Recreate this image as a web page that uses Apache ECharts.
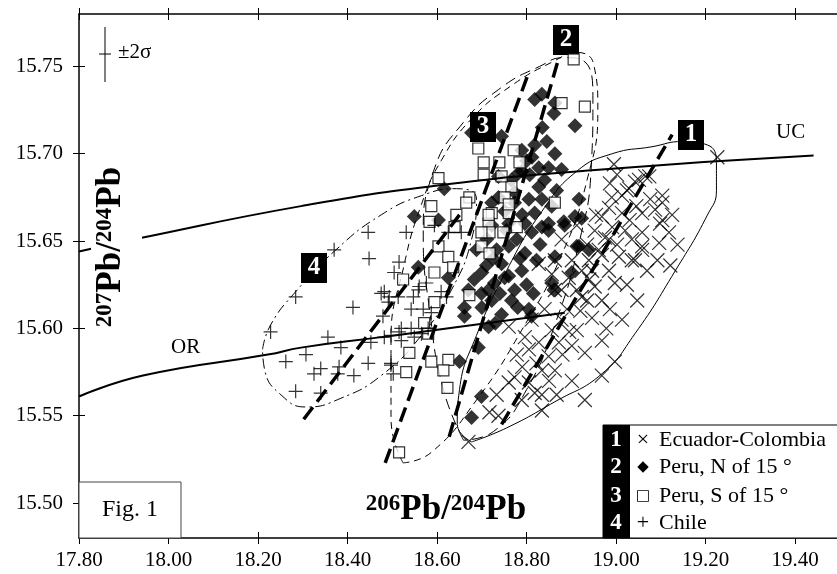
<!DOCTYPE html>
<html>
<head>
<meta charset="utf-8">
<script src="https://cdn.jsdelivr.net/npm/echarts@6.0.0/dist/echarts.min.js"></script>
<style>
  html, body { margin: 0; padding: 0; background: #fff; }
  #main { width: 837px; height: 574px; }
</style>
</head>
<body>
<div id="main"></div>
<script>
// tick labels
const xTicks = [17.8, 18.0, 18.2, 18.4, 18.6, 18.8, 19.0, 19.2, 19.4];
const yTicks = [15.50, 15.55, 15.60, 15.65, 15.70, 15.75];

// 1 Ecuador-Colombia (x)
const ecuadorPts = [
  [19.226,15.698],[18.995,15.694],[18.986,15.683],[19.042,15.684],[19.074,15.687],[19.024,15.679],
  [19.103,15.676],[19.121,15.636],[18.986,15.611],[18.997,15.581],[19.042,15.639],[19.096,15.649],
  [19.118,15.655],[19.058,15.645],[19.098,15.660],[19.103,15.672],[19.058,15.655],[19.013,15.666],
  [19.029,15.680],[19.051,15.685],[19.065,15.687],[19.087,15.668],[19.103,15.662],[19.058,15.666],
  [18.984,15.669],[18.968,15.664],[18.991,15.658],[19.020,15.656],[19.035,15.651],[19.058,15.647],
  [19.035,15.639],[19.006,15.641],[18.984,15.651],[18.952,15.656],[18.961,15.645],[18.939,15.639],
  [18.923,15.633],[18.894,15.629],[18.878,15.622],[18.984,15.633],[18.997,15.626],[18.952,15.624],
  [18.923,15.618],[18.968,15.616],[18.863,15.639],[18.760,15.601],[18.796,15.595],[18.827,15.592],
  [18.805,15.588],[18.849,15.584],[18.863,15.576],[18.834,15.576],[18.773,15.572],[18.760,15.569],
  [18.805,15.569],[18.818,15.563],[18.856,15.631],[18.840,15.611],[18.863,15.622],[18.827,15.637],
  [18.670,15.535],[18.717,15.552],[18.737,15.550],[18.901,15.570],[18.930,15.586],[18.968,15.573],
  [18.912,15.599],[18.946,15.606],[18.878,15.605],[18.901,15.590],[18.789,15.559],[19.013,15.676],
  [19.002,15.688],[19.076,15.674],[19.125,15.665],[19.137,15.648],[19.092,15.639],[19.069,15.633],
  [19.024,15.625],[19.047,15.616],[19.013,15.605],[18.968,15.593],[18.935,15.616],[18.912,15.622],
  [18.946,15.633],[18.968,15.642],[19.002,15.648],[18.935,15.648],[18.901,15.639],[18.878,15.651],
  [18.912,15.659],[18.890,15.611],[18.856,15.599],[18.811,15.605],[18.778,15.585],[18.733,15.562],
  [18.834,15.562],[18.867,15.562],[18.930,15.559],[18.834,15.553],[18.955,15.665],[18.975,15.652],
  [18.940,15.628],[18.920,15.610],[18.895,15.598],[18.880,15.585],[18.850,15.570],[18.822,15.580],
  [18.790,15.578],[18.872,15.592],[19.030,15.662],[19.045,15.670],[18.990,15.675],[18.978,15.600]
];

// 2 Peru, N of 15 (diamond)
const peruNPts = [
  [18.818,15.731],[18.834,15.734],[18.863,15.729],[18.861,15.723],[18.908,15.716],[18.845,15.707],
  [18.818,15.705],[18.789,15.702],[18.744,15.710],[18.677,15.712],[18.863,15.700],[18.878,15.691],
  [18.827,15.692],[18.840,15.685],[18.782,15.689],[18.616,15.680],[18.849,15.692],[18.807,15.688],
  [18.737,15.687],[18.827,15.681],[18.773,15.678],[18.805,15.674],[18.834,15.674],[18.856,15.670],
  [18.818,15.666],[18.549,15.664],[18.603,15.662],[18.796,15.660],[18.834,15.658],[18.849,15.656],
  [18.751,15.667],[18.737,15.675],[18.558,15.635],[18.625,15.629],[18.661,15.612],[18.661,15.607],
  [18.715,15.601],[18.650,15.581],[18.683,15.628],[18.699,15.620],[18.722,15.616],[18.728,15.626],
  [18.751,15.629],[18.773,15.622],[18.805,15.611],[18.811,15.607],[18.856,15.626],[18.849,15.660],
  [18.885,15.659],[18.908,15.664],[18.917,15.647],[18.863,15.641],[18.796,15.643],[18.760,15.647],
  [18.744,15.637],[18.722,15.672],[18.773,15.672],[18.811,15.655],[18.715,15.622],[18.692,15.589],
  [18.699,15.561],[18.677,15.549],[18.923,15.663],[18.883,15.661],[18.912,15.647],[18.939,15.645],
  [18.901,15.632],[18.861,15.622],[18.917,15.674],[18.755,15.656],[18.778,15.651],[18.733,15.645],
  [18.711,15.651],[18.789,15.633],[18.822,15.639],[18.800,15.625],[18.766,15.616],[18.744,15.608],
  [18.710,15.636],[18.688,15.645],[18.722,15.659],[18.766,15.685],[18.800,15.696],[18.867,15.679],
  [18.790,15.665],[18.785,15.640],[18.760,15.630],[18.740,15.620],[18.725,15.640],[18.700,15.632],
  [18.815,15.620],[18.830,15.648],[18.760,15.660],[18.790,15.690],[18.812,15.698],[18.835,15.715],
  [18.700,15.612],[18.730,15.603],[18.670,15.622],[18.780,15.612]
];

// 3 Peru, S of 15 (open square)
const peruSPts = [
  [18.905,15.754],[18.878,15.729],[18.930,15.727],[18.692,15.703],[18.704,15.695],[18.704,15.688],
  [18.739,15.695],[18.771,15.702],[18.784,15.695],[18.766,15.681],[18.744,15.687],[18.603,15.686],
  [18.587,15.670],[18.583,15.661],[18.672,15.675],[18.665,15.672],[18.643,15.665],[18.639,15.658],
  [18.722,15.666],[18.751,15.675],[18.760,15.666],[18.715,15.660],[18.717,15.655],[18.748,15.655],
  [18.778,15.658],[18.863,15.672],[18.603,15.647],[18.625,15.641],[18.636,15.635],[18.524,15.628],
  [18.594,15.632],[18.594,15.615],[18.672,15.619],[18.571,15.603],[18.580,15.597],[18.538,15.586],
  [18.587,15.581],[18.625,15.582],[18.614,15.576],[18.623,15.566],[18.531,15.575],[18.699,15.647],
  [18.717,15.643],[18.699,15.655],[18.715,15.665],[18.760,15.671],[18.515,15.529]
];

// 4 Chile (+)
const chilePts = [
  [18.228,15.598],[18.284,15.618],[18.284,15.564],[18.370,15.645],[18.446,15.655],[18.448,15.640],
  [18.531,15.655],[18.515,15.638],[18.504,15.632],[18.475,15.620],[18.493,15.618],[18.513,15.618],
  [18.558,15.622],[18.412,15.612],[18.479,15.607],[18.542,15.611],[18.520,15.600],[18.542,15.600],
  [18.356,15.595],[18.385,15.589],[18.452,15.592],[18.482,15.595],[18.520,15.593],[18.549,15.595],
  [18.565,15.597],[18.325,15.574],[18.340,15.577],[18.381,15.578],[18.378,15.574],[18.414,15.573],
  [18.446,15.580],[18.497,15.579],[18.502,15.574],[18.340,15.563],[18.482,15.621],[18.491,15.615],
  [18.547,15.618],[18.560,15.624],[18.576,15.626],[18.609,15.621],[18.621,15.618],[18.569,15.611],
  [18.587,15.609],[18.580,15.600],[18.515,15.598],[18.497,15.596],[18.497,15.580],[18.594,15.659],
  [18.625,15.655],[18.654,15.655],[18.262,15.581],[18.307,15.585]
];

// reference curves
const ucCurve = [[17.80,15.644],[17.943,15.652],[18.296,15.670],[18.605,15.682],[18.968,15.691],[19.441,15.699]];
const orCurve = [[17.80,15.561],[17.943,15.573],[18.222,15.585],[18.296,15.589],[18.475,15.595],[18.885,15.609]];

// trend lines (thick dashed)
const trend1 = [[18.744,15.545],[19.125,15.711]];
const trend2 = [[18.627,15.538],[18.872,15.755]];
const trend3 = [[18.484,15.523],[18.804,15.746]];
const trend4 = [[18.302,15.548],[18.650,15.665]];

// field outlines
const field1 = [[18.677,15.535],[18.645,15.545],[18.650,15.565],[18.688,15.596],[18.755,15.633],[18.834,15.667],
  [18.912,15.690],[18.991,15.700],[19.080,15.704],[19.148,15.707],[19.204,15.705],[19.224,15.695],[19.224,15.679],
  [19.204,15.665],[19.132,15.633],[19.042,15.597],[18.968,15.574],[18.863,15.558],[18.755,15.543],[18.677,15.535]];
const field2 = [[18.659,15.536],[18.614,15.565],[18.583,15.611],[18.569,15.653],[18.592,15.690],[18.659,15.718],
  [18.744,15.738],[18.829,15.750],[18.883,15.755],[18.928,15.753],[18.948,15.731],[18.944,15.691],[18.919,15.651],
  [18.867,15.605],[18.800,15.565],[18.726,15.541],[18.659,15.536]];
const field3 = [[18.524,15.523],[18.497,15.548],[18.497,15.593],[18.526,15.636],[18.565,15.671],[18.609,15.696],
  [18.677,15.720],[18.766,15.739],[18.861,15.753],[18.912,15.758],[18.950,15.751],[18.959,15.725],[18.935,15.685],
  [18.878,15.642],[18.789,15.599],[18.688,15.559],[18.587,15.529],[18.524,15.523]];
const field4 = [[18.210,15.588],[18.228,15.602],[18.284,15.621],[18.374,15.645],[18.475,15.665],[18.565,15.676],
  [18.643,15.680],[18.688,15.674],[18.677,15.651],[18.632,15.622],[18.565,15.596],[18.475,15.573],[18.385,15.560],
  [18.307,15.555],[18.251,15.562],[18.215,15.576],[18.210,15.588]];

const serif = '"Liberation Serif", "Times New Roman", serif';

function xAx(pos, inside, main) {
  return {
    type: 'value', position: pos, min: 17.8, max: 19.5,
    axisLine: { show: main, lineStyle: { color: '#000', width: 1.5 } },
    axisTick: { show: true, inside: inside, length: 6, customValues: xTicks, lineStyle: { color: '#000', width: 1 } },
    axisLabel: { show: main && pos === 'bottom', customValues: xTicks, margin: 12,
      formatter: v => v.toFixed(2), fontFamily: serif, fontSize: 21, color: '#000' },
    splitLine: { show: false }
  };
}
function yAx(inside, main) {
  return {
    type: 'value', position: 'left', min: 15.48, max: 15.78,
    axisLine: { show: main, lineStyle: { color: '#000', width: 1.5 } },
    axisTick: { show: true, inside: inside, length: 6, customValues: yTicks, lineStyle: { color: '#000', width: 1 } },
    axisLabel: { show: main, customValues: yTicks, margin: 16,
      formatter: v => v.toFixed(2), fontFamily: serif, fontSize: 21, color: '#000' },
    splitLine: { show: false }
  };
}

function field(data, type, width) {
  return { type: 'line', data: data, smooth: 0.5, symbol: 'none', silent: true, z: 1,
    lineStyle: { color: '#000', width: width, type: type } };
}
function trend(data) {
  return { type: 'line', data: data, symbol: 'none', silent: true, z: 4,
    lineStyle: { color: '#000', width: 3.5, type: [15, 7] } };
}
function tag(num, x, y) {
  return { type: 'group', left: x, top: y, z: 20, children: [
    { type: 'rect', shape: { x: 0, y: 0, width: 26, height: 30 }, style: { fill: '#000' } },
    { type: 'text', x: 13, y: 15, style: { text: num, fill: '#fff', font: 'bold 25px ' + serif, align: 'center', verticalAlign: 'middle' } }
  ] };
}
function legendRow(y, num, label) {
  return [
    { type: 'text', x: 616, y: y, z: 12, style: { text: num, font: 'bold 23px ' + serif, fill: '#fff', align: 'center', verticalAlign: 'middle' } },
    { type: 'text', x: 659, y: y, z: 12, style: { text: label, font: '22px ' + serif, fill: '#000', verticalAlign: 'middle' } }
  ];
}
// 206Pb/204Pb style title, superscripts raised
const titleRich = {
  s: { font: 'bold 23px ' + serif, verticalAlign: 'top', fill: '#000' },
  b: { font: 'bold 35px ' + serif, fill: '#000' }
};

const chart = echarts.init(document.getElementById('main'));
chart.setOption({
  animation: false,
  backgroundColor: '#fff',
  textStyle: { fontFamily: serif },
  grid: { left: 79, right: -3, top: 14, bottom: 36, containLabel: false, outerBoundsMode: 'none' },
  xAxis: [xAx('bottom', false, true), xAx('bottom', true, false), xAx('top', false, true), xAx('top', true, false)],
  yAxis: [yAx(false, true), yAx(true, false)],
  series: [
    field(field1, 'solid', 1),
    field(field2, [11, 6], 1),
    field(field3, [7, 5], 1),
    field(field4, [10, 4, 2, 4], 1),
    { type: 'line', data: ucCurve, smooth: true, symbol: 'none', silent: true, z: 3, lineStyle: { color: '#000', width: 2 } },
    { type: 'line', data: orCurve, smooth: true, symbol: 'none', silent: true, z: 3, lineStyle: { color: '#000', width: 2 } },
    { name: 'Ecuador-Colombia', type: 'scatter', data: ecuadorPts, z: 2,
      symbol: 'path://M0,0L10,10M10,0L0,10', symbolSize: 14,
      itemStyle: { color: 'transparent', borderColor: '#000', borderWidth: 1.2 } },
    { name: 'Peru, N of 15', type: 'scatter', data: peruNPts, z: 2,
      symbol: 'diamond', symbolSize: 15, itemStyle: { color: '#000' } },
    { name: 'Peru, S of 15', type: 'scatter', data: peruSPts, z: 2,
      symbol: 'rect', symbolSize: 11, itemStyle: { color: '#fff', borderColor: '#000', borderWidth: 1.2 } },
    { name: 'Chile', type: 'scatter', data: chilePts, z: 2,
      symbol: 'path://M5,0L5,10M0,5L10,5', symbolSize: 14,
      itemStyle: { color: 'transparent', borderColor: '#000', borderWidth: 1.2 } },
    trend(trend1), trend(trend2), trend(trend3), trend(trend4)
  ],
  graphic: [
    // 2 sigma bar
    { type: 'line', shape: { x1: 105, y1: 27, x2: 105, y2: 82 }, style: { stroke: '#000', lineWidth: 1 } },
    { type: 'line', shape: { x1: 99, y1: 54, x2: 111, y2: 54 }, style: { stroke: '#000', lineWidth: 1 } },
    { type: 'text', left: 118, top: 42, style: { text: '±2σ', font: '21px ' + serif, fill: '#000' } },
    // y title on white
    { type: 'rect', shape: { x: 91, y: 156, width: 51, height: 182 }, style: { fill: '#fff' }, z: 10 },
    { type: 'text', x: 111, y: 247, rotation: Math.PI / 2, z: 11,
      style: { text: '{s|207}{b|Pb/}{s|204}{b|Pb}', align: 'center', verticalAlign: 'middle', rich: titleRich } },
    // x title
    { type: 'text', x: 446, y: 510, z: 11,
      style: { text: '{s|206}{b|Pb/}{s|204}{b|Pb}', align: 'center', verticalAlign: 'middle', rich: titleRich } },
    { type: 'text', left: 776, top: 122, style: { text: 'UC', font: '21px ' + serif, fill: '#000' } },
    { type: 'text', left: 171, top: 337, style: { text: 'OR', font: '21px ' + serif, fill: '#000' } },
    tag('1', 678, 120), tag('2', 553, 25), tag('3', 470, 112), tag('4', 301, 253),
    // Fig. 1 box
    { type: 'rect', shape: { x: 79, y: 482, width: 102, height: 56 }, style: { fill: '#fff', stroke: '#444', lineWidth: 1 }, z: 10 },
    { type: 'text', x: 130, y: 510, z: 11, style: { text: 'Fig. 1', font: '24px ' + serif, fill: '#000', align: 'center', verticalAlign: 'middle' } },
    // legend
    { type: 'rect', shape: { x: 603, y: 425, width: 240, height: 113 }, style: { fill: '#fff', stroke: '#000', lineWidth: 1 }, z: 10 },
    { type: 'rect', shape: { x: 603, y: 425, width: 27, height: 113 }, style: { fill: '#000' }, z: 11 },
    ...legendRow(440, '1', 'Ecuador-Colombia'),
    ...legendRow(467, '2', 'Peru, N of 15 °'),
    ...legendRow(496, '3', 'Peru, S of 15 °'),
    ...legendRow(523, '4', 'Chile'),
    // legend markers
    { type: 'text', x: 643, y: 440, z: 12, style: { text: '×', font: '22px ' + serif, fill: '#000', align: 'center', verticalAlign: 'middle' } },
    { type: 'text', x: 643, y: 467, z: 12, style: { text: '◆', font: '15px "DejaVu Sans"', fill: '#000', align: 'center', verticalAlign: 'middle' } },
    { type: 'text', x: 643, y: 496, z: 12, style: { text: '□', font: '15px "DejaVu Sans"', fill: '#000', align: 'center', verticalAlign: 'middle' } },
    { type: 'text', x: 643, y: 523, z: 12, style: { text: '+', font: '22px ' + serif, fill: '#000', align: 'center', verticalAlign: 'middle' } }
  ]
});
</script>
</body>
</html>
